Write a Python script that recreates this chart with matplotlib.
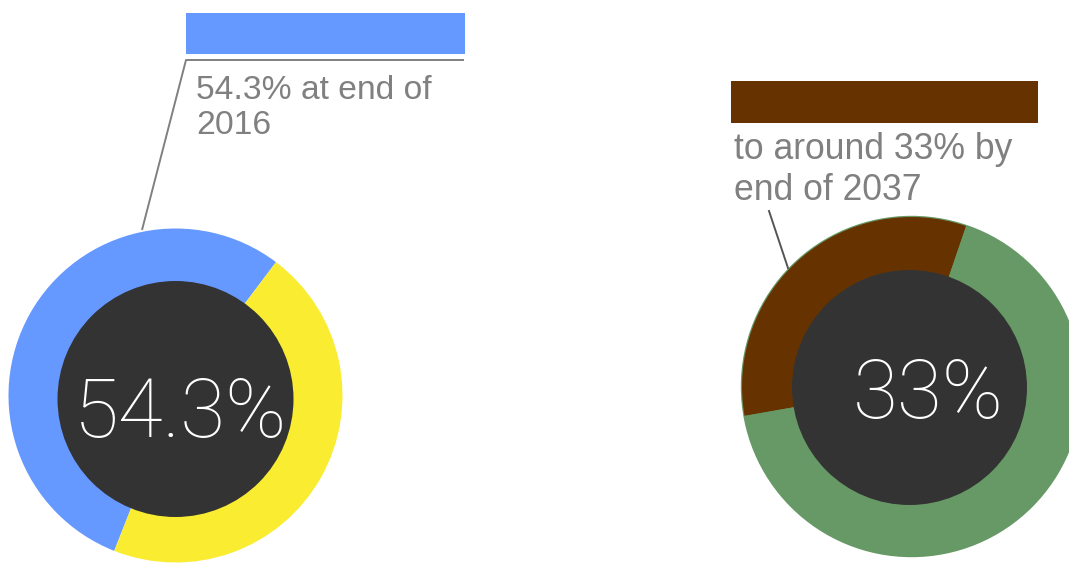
import matplotlib
matplotlib.use("Agg")
import matplotlib.pyplot as plt
from matplotlib.patches import Circle, Rectangle

# end of 2016: share vs. the rest
share_2016 = [54.3, 45.7]
colors_2016 = ["#6699ff", "#f9ec31"]
note_2016 = "54.3% at end of\n2016"
big_2016 = "54.3%"

# end of 2037: projected share, then the two remaining parts
share_2037 = [33, 12, 55]
colors_2037 = ["#663300", "#669966", "#669966"]
note_2037 = "to around 33% by\nend of 2037"
big_2037 = "33%"

W, H = 1069, 565
HOLE = "#333333"
GREY = "#808080"


def flip(y):
    # layout below is measured from the top edge
    return H - y


def donut(ax, values, colors, center, radius, start, hole_center, hole_radius, text, text_xy, rim=None):
    if rim is not None:
        ax.add_patch(Circle(center, radius + 1.2, color=rim, lw=0, zorder=1))
    ax.pie(values, colors=colors, startangle=start, counterclock=True,
           radius=radius, center=center, frame=True,
           wedgeprops=dict(linewidth=0, zorder=2))
    ax.add_patch(Circle(hole_center, hole_radius, color=HOLE, lw=0, zorder=3))
    ax.text(text_xy[0], text_xy[1], text, color="white", fontsize=59,
            family=["Roboto", "DejaVu Sans"], weight="light",
            ha="center", va="baseline", zorder=4)


fig = plt.figure(figsize=(W / 100, H / 100), dpi=100)
ax = fig.add_axes([0, 0, 1, 1])

donut(ax, share_2016, colors_2016, (175.5, flip(395.5)), 167, 53,
      (175.5, flip(399)), 118, big_2016, (180.5, flip(437)))
donut(ax, share_2037, colors_2037, (911.5, flip(386.5)), 169.5, 71.2,
      (909.5, flip(387.5)), 117.5, big_2037, (928.5, flip(418)), rim="#669966")

# callout for 2016 (va=baseline pins the last line)
ax.add_patch(Rectangle((186, flip(54.3)), 279, 41.6, color=colors_2016[0], lw=0))
ax.plot([464, 186, 142], [flip(60), flip(60), flip(230)], color=GREY, lw=1.4,
        solid_capstyle="butt", zorder=5)
ax.text(196, flip(134.5), note_2016, color=GREY, fontsize=24.2,
        family=["Liberation Sans", "DejaVu Sans"], ha="left", va="baseline",
        linespacing=1.2)

# callout for 2037
ax.add_patch(Rectangle((731, flip(122.7)), 307, 41.7, color=colors_2037[0], lw=0))
ax.plot([769, 788], [flip(211), flip(268)], color="#555555", lw=1.4, zorder=5)
ax.text(734, flip(199.5), note_2037, color=GREY, fontsize=25.6,
        family=["Liberation Sans", "DejaVu Sans"], ha="left", va="baseline",
        linespacing=1.2)

ax.set_xlim(0, W)
ax.set_ylim(0, H)
ax.set_aspect("auto")
ax.axis("off")

fig.savefig("out.png", dpi=100, facecolor="white")
plt.close(fig)
